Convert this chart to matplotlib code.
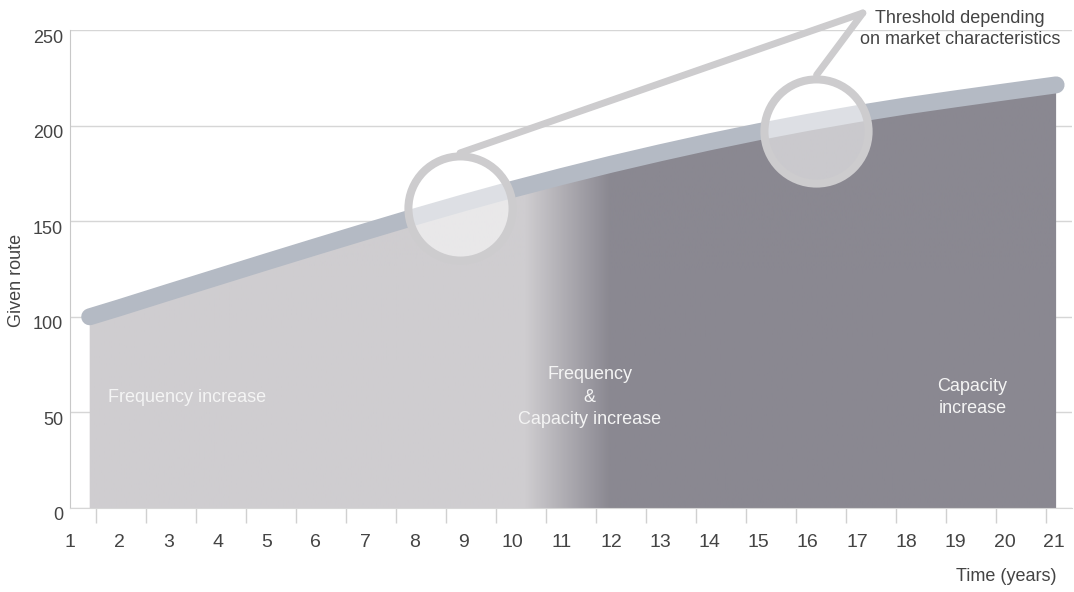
import numpy as np
import matplotlib
matplotlib.use("Agg")
import matplotlib.pyplot as plt
import matplotlib.transforms as mtransforms
from matplotlib.colors import LinearSegmentedColormap

plt.rcParams['font.family'] = ['Liberation Sans Narrow', 'Liberation Sans', 'DejaVu Sans']

# data
years = [1.4, 2, 3, 4, 5, 6, 7, 8, 9, 10, 11, 12, 13, 14, 15, 16, 17, 18, 19, 20, 21.05]
route = [100, 104.7, 112.8, 120.8, 128.8, 136.7, 144.5, 152.2, 159.6, 166.7, 173.4,
         179.8, 185.8, 191.5, 196.8, 201.7, 206.2, 210.3, 214.0, 217.6, 221.3]
xticks = list(range(1, 22))
yticks = [0, 50, 100, 150, 200, 250]
thresholds = [(8.93, 156.9), (16.16, 197.2)]
callout_tip = (17.12, 258.9)
callout_starts = [(8.93, 185.7), (16.18, 226.5)]
zones = ['Frequency increase', 'Frequency\n&\nCapacity increase', 'Capacity\nincrease']
zone_pos = [(3.37, 58), (11.57, 58), (19.35, 58)]
blend = (10.25, 11.98)   # where the fill turns from light to dark

light, dark = '#cfcdd0', '#8a8891'
ring = '#cdccce'
txt = '#444444'

fig = plt.figure(figsize=(10.74, 5.92), dpi=100)
ax = fig.add_axes([0.0652, 0.1419, 0.9328, 0.8074])
xlim = (1.0, 21.37)
ylim = (0, 250)

# grid + spines
ax.set_yticks(yticks)
ax.grid(axis='y', color='#d6d6d6', lw=1, zorder=0)
ax.set_axisbelow(True)
for s in ['top', 'right']:
    ax.spines[s].set_visible(False)
ax.spines['left'].set_color('#c8c8c8')
ax.spines['bottom'].set_color('#d6d6d6')

# area with horizontal gradient
fill = ax.fill_between(years, route, 0, facecolor='none', lw=0)
cmap = LinearSegmentedColormap.from_list('fc', [light, dark])
xs = np.linspace(xlim[0], xlim[1], 600)
grad = np.clip((xs - blend[0]) / (blend[1] - blend[0]), 0, 1)[None, :]
im = ax.imshow(grad, extent=[xlim[0], xlim[1], 0, 250], origin='lower',
               aspect='auto', cmap=cmap, vmin=0, vmax=1, zorder=1)
im.set_clip_path(fill.get_paths()[0], transform=ax.transData)

ax.plot(years, route, color='#b4bac4', lw=12.2, solid_capstyle='round', zorder=3)

# threshold circles and callout
for cx, cy in thresholds:
    ax.plot(cx, cy, 'o', ms=75, mfc=(1, 1, 1, 0.55), mec=ring, mew=5.8,
            zorder=4, clip_on=False)
for sx, sy in callout_starts:
    ax.plot([sx, callout_tip[0]], [sy, callout_tip[1]], color=ring, lw=5,
            solid_capstyle='round', zorder=5, clip_on=False)
ax.text(19.1, 250.5, 'Threshold depending\non market characteristics',
        ha='center', va='center', fontsize=13, color=txt, linespacing=1.3,
        zorder=6, clip_on=False)

for label, (tx, ty) in zip(zones, zone_pos):
    ax.text(tx, ty, label, ha='center', va='center', fontsize=13,
            color='#f4f4f4', linespacing=1.4, zorder=6)

ax.set_xlim(*xlim)
ax.set_ylim(*ylim)

# ticks
ax.set_xticks(xticks)
ax.set_xticks(np.linspace(1.52, 20.85, 20), minor=True)
ax.tick_params(axis='x', which='major', length=0, pad=19, labelsize=14, labelcolor=txt)
ax.tick_params(axis='x', which='minor', length=10.8, width=1, color='#d0d0d0')
ax.tick_params(axis='y', length=0, pad=5, labelsize=13, labelcolor=txt)
off = mtransforms.ScaledTranslation(0, -6 / 100, fig.dpi_scale_trans)
for lab in ax.get_yticklabels():
    lab.set_transform(lab.get_transform() + off)

ax.set_xlabel('Time (years)', fontsize=13, color=txt, ha='right', va='center')
ax.xaxis.set_label_coords(0.985, -0.144)
ax.set_ylabel('Given route', fontsize=13, color=txt, va='center')
ax.yaxis.set_label_coords(-0.053, 0.477)

plt.savefig('out.png', dpi=100)
